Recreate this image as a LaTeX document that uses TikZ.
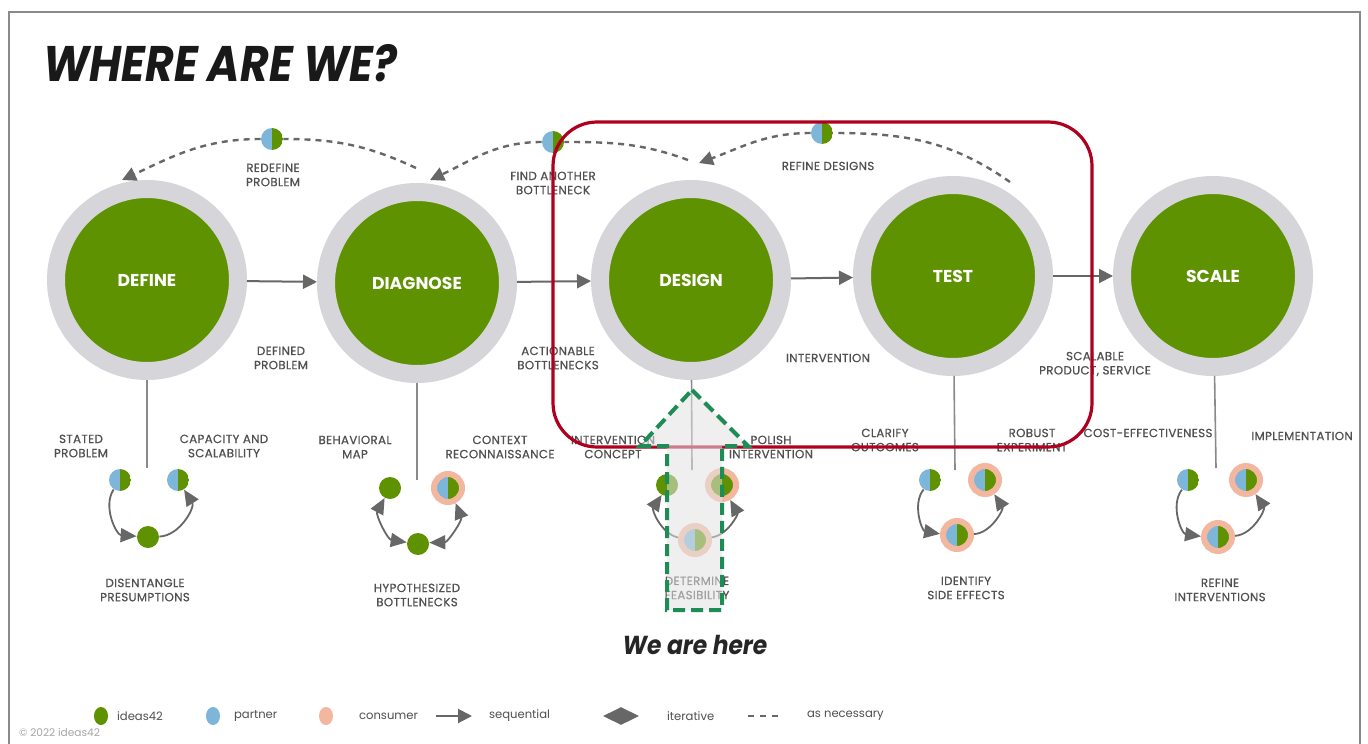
\documentclass[tikz,border=0pt]{standalone}
\usepackage{fontspec}
\setmainfont{Poppins}
\newfontfamily\titlefont[FakeStretch=0.88]{Poppins}
\newfontfamily\herefont[FakeStretch=0.9]{Poppins}
\newfontfamily\labfont[FakeBold=0.6,LetterSpace=3]{Poppins}
\usetikzlibrary{arrows.meta,shapes.geometric}

\definecolor{idgreen}{HTML}{5E9200}
\definecolor{ringgray}{HTML}{D5D5DA}
\definecolor{partblue}{HTML}{7DB6D9}
\definecolor{conspeach}{HTML}{F3B79F}
\definecolor{arrgray}{HTML}{676767}
\definecolor{stemgray}{HTML}{8A8A8A}
\definecolor{labgray}{HTML}{505050}
\definecolor{framered}{HTML}{B00020}
\definecolor{heregreen}{HTML}{1E8C55}

\tikzset{
	stage/.style={circle, fill=idgreen, draw=ringgray, line width=9pt, minimum size=91pt, inner sep=0pt, text=white, font=\bfseries\fontsize{8.6}{10}\selectfont},
	gdot/.style={circle, fill=idgreen, minimum size=11pt, inner sep=0pt},
	hdot/.style={circle, minimum size=11pt, inner sep=0pt,
		path picture={\fill[partblue] (path picture bounding box.south west) rectangle (path picture bounding box.north);
			\fill[idgreen] (path picture bounding box.south) rectangle (path picture bounding box.north east);}},
	cons/.style={draw=conspeach, line width=3pt, minimum size=14pt},
	lab/.style={align=center, text=labgray, font=\labfont\fontsize{5.9}{7.1}\selectfont},
	seq/.style={draw=arrgray, line width=1pt, -{Triangle[length=7pt,width=7pt]}},
	cyc/.style={draw=arrgray, line width=0.9pt, -{Triangle[length=8pt,width=7pt]}},
	cycboth/.style={draw=arrgray, line width=0.9pt, {Triangle[length=8pt,width=7pt]}-{Triangle[length=8pt,width=7pt]}},
	loopback/.style={draw=arrgray, line width=1.2pt, dash pattern=on 3pt off 2.5pt, -{Triangle[length=7pt,width=7pt]}},
	stem/.style={draw=stemgray, line width=0.8pt},
	legdot/.style={ellipse, minimum width=7pt, minimum height=9pt, inner sep=0pt},
	legtext/.style={anchor=west, text=labgray, font=\fontsize{5.8}{7}\selectfont}
}

\begin{document}
\begin{tikzpicture}[x=0.5pt,y=-0.5pt]
		\useasboundingbox (0,0) rectangle (1368,743);
		\fill[white] (0,0) rectangle (1368,743);
		\draw[stemgray, line width=1.2pt] (9,745) |- (1360,12) -- (1360,745);
		
		\node (title) [anchor=base west, at={(36,82)}, font=\titlefont\bfseries\itshape\fontsize{25}{25}\selectfont, text=black!90] {WHERE ARE WE?};
		
		% stages
		\node (define) [stage, at={(147,280)}] {DEFINE};
		\node (diagnose) [stage, at={(417,283)}] {DIAGNOSE};
		\node (design) [stage, at={(691,280)}] {DESIGN};
		\node (test) [stage, at={(953,276)}] {TEST};
		\node (scale) [stage, at={(1213,276)}] {SCALE};
		
		\draw[seq] (define) -- (diagnose);
		\draw[seq] (diagnose) -- (design);
		\draw[seq] (design) -- (test);
		\draw[seq] (test) -- (scale);
		
		\node (defout) [lab, at={(281,358)}] {DEFINED\\PROBLEM};
		\node (diaout) [lab, at={(558,358)}] {ACTIONABLE\\BOTTLENECKS};
		\node (desout) [lab, at={(828,358)}] {INTERVENTION};
		\node (tesout) [lab, at={(1095,364)}] {SCALABLE\\PRODUCT, SERVICE};
		
		% loops back
		\coordinate (rdfrom) at (416,168);
		\coordinate (rdto) at (122,180);
		\node (rddot) [hdot, at={(272,139)}] {};
		\draw[loopback] (rdfrom) to[out=155,in=0] (rddot) to[out=180,in=25] (rdto);
		\node (rdlab) [lab, at={(273,175)}] {REDEFINE\\PROBLEM};
		
		\coordinate (fafrom) at (688,160);
		\coordinate (fato) at (430,180);
		\node (fadot) [hdot, at={(553,142)}] {};
		\draw[loopback] (fafrom) to[out=160,in=0] (fadot) to[out=180,in=25] (fato);
		\node (falab) [lab, at={(553,183)}] {FIND ANOTHER\\BOTTLENECK};
		
		\coordinate (rffrom) at (1010,182);
		\coordinate (rfto) at (699,163);
		\node (rfdot) [hdot, at={(822,133)}] {};
		\draw[loopback] (rffrom) to[out=145,in=0] (rfdot) to[out=180,in=20] (rfto);
		\node (rflab) [lab, at={(828,166)}] {REFINE DESIGNS};
		
		% stems
		\coordinate (defstem) at (147,468);
		\coordinate (diastem) at (417,480);
		\coordinate (desstem) at (692,470);
		\coordinate (tesstem) at (955,470);
		\coordinate (scastem) at (1216,468);
		\draw[stem] (define) -- (defstem);
		\draw[stem] (diagnose) -- (diastem);
		\draw[stem] (design) -- (desstem);
		\draw[stem] (test) -- (tesstem);
		\draw[stem] (scale) -- (scastem);
		
		% define cycle
		\node (defa) [hdot, at={(120,480)}] {};
		\node (defb) [hdot, at={(178,480)}] {};
		\node (defc) [gdot, at={(148,537)}] {};
		\draw[cyc] (defa) to[bend right=60] (defc);
		\draw[cyc] (defc) to[bend right=60] (defb);
		\node (defla) [lab, at={(81,446)}] {STATED\\PROBLEM};
		\node (deflb) [lab, at={(224,446)}] {CAPACITY AND\\SCALABILITY};
		\node (deflc) [lab, at={(145,590)}] {DISENTANGLE\\PRESUMPTIONS};
		
		% diagnose cycle
		\node (diaa) [gdot, at={(390,488)}] {};
		\node (diab) [hdot, cons, at={(448,488)}] {};
		\node (diac) [gdot, at={(418,544)}] {};
		\draw[cycboth] (diaa) to[bend right=55] (diac);
		\draw[cycboth] (diac) to[bend right=55] (diab);
		\node (diala) [lab, at={(355,447)}] {BEHAVIORAL\\MAP};
		\node (dialb) [lab, at={(500,447)}] {CONTEXT\\RECONNAISSANCE};
		\node (dialc) [lab, at={(417,595)}] {HYPOTHESIZED\\BOTTLENECKS};
		
		% design cycle
		\node (desa) [gdot, at={(667,485)}] {};
		\node (desb) [gdot, cons, at={(722,485)}] {};
		\node (desc) [hdot, cons, at={(695,540)}] {};
		\draw[cyc] (desc) to[bend left=55] (desa);
		\draw[cyc] (desc) to[bend right=55] (desb);
		\node (desla) [lab, at={(613,447)}] {INTERVENTION\\CONCEPT};
		\node (deslb) [lab, at={(771,447)}] {POLISH\\INTERVENTION};
		\node (deslc) [lab, at={(697,588)}] {DETERMINE\\FEASIBILITY};
		
		% test cycle
		\node (tesa) [hdot, at={(930,480)}] {};
		\node (tesb) [hdot, cons, at={(985,480)}] {};
		\node (tesc) [hdot, cons, at={(957,535)}] {};
		\draw[cyc] (tesa) to[bend right=60] (tesc);
		\draw[cyc] (tesc) to[bend right=60] (tesb);
		\node (tesla) [lab, at={(885,440)}] {CLARIFY\\OUTCOMES};
		\node (teslb) [lab, at={(1032,440)}] {ROBUST\\EXPERIMENT};
		\node (teslc) [lab, at={(966,588)}] {IDENTIFY\\SIDE EFFECTS};
		
		% scale cycle
		\node (scaa) [hdot, at={(1188,480)}] {};
		\node (scab) [hdot, cons, at={(1246,480)}] {};
		\node (scac) [hdot, cons, at={(1218,537)}] {};
		\draw[cyc] (scaa) to[bend right=60] (scac);
		\draw[cyc] (scac) to[bend right=60] (scab);
		\node (scala) [lab, at={(1148,433)}] {COST-EFFECTIVENESS};
		\node (scalb) [lab, at={(1302,436)}] {IMPLEMENTATION};
		\node (scalc) [lab, at={(1220,590)}] {REFINE\\INTERVENTIONS};
		
		% focus
		\draw[framered, line width=1.6pt, rounded corners=22pt] (553,122) rectangle (1092,447);
		\draw[fill=gray!22, fill opacity=0.55, draw=heregreen, line width=2pt, dash pattern=on 6pt off 3pt]
			(692,390) -- (748,446) -- (722,446) -- (722,610) -- (667,610) -- (667,446) -- (640,446) -- cycle;
		\node (here) [at={(695,645)}, font=\herefont\bfseries\itshape\fontsize{13}{13}\selectfont, text=black!85] {We are here};
		
		% legend
		\node (lgreen) [legdot, fill=idgreen, at={(101,716)}] {};
		\node (lgreentx) [legtext, at={(110,716)}] {ideas42};
		\node (lblue) [legdot, fill=partblue, at={(213,716)}] {};
		\node (lbluetx) [legtext, at={(227,716)}] {partner};
		\node (lpeach) [legdot, fill=conspeach, at={(326,716)}] {};
		\node (lpeachtx) [legtext, at={(352,716)}] {consumer};
		\coordinate (lseqa) at (436,716);
		\coordinate (lseqb) at (472,716);
		\draw[seq] (lseqa) -- (lseqb);
		\node (lseqtx) [legtext, at={(482,716)}] {sequential};
		\node (liter) [diamond, fill=arrgray, aspect=2, minimum width=18pt, minimum height=9pt, inner sep=0pt, at={(621,716)}] {};
		\node (litertx) [legtext, at={(660,716)}] {iterative};
		\coordinate (lneca) at (748,716);
		\coordinate (lnecb) at (778,716);
		\draw[draw=arrgray, line width=0.8pt, dash pattern=on 3pt off 3pt] (lneca) -- (lnecb);
		\node (lnectx) [legtext, at={(800,716)}] {as necessary};
		\node (copy) [anchor=west, text=gray!70, font=\fontsize{5.3}{6}\selectfont, at={(12,733)}] {© 2022 ideas42};
\end{tikzpicture}
\end{document}
